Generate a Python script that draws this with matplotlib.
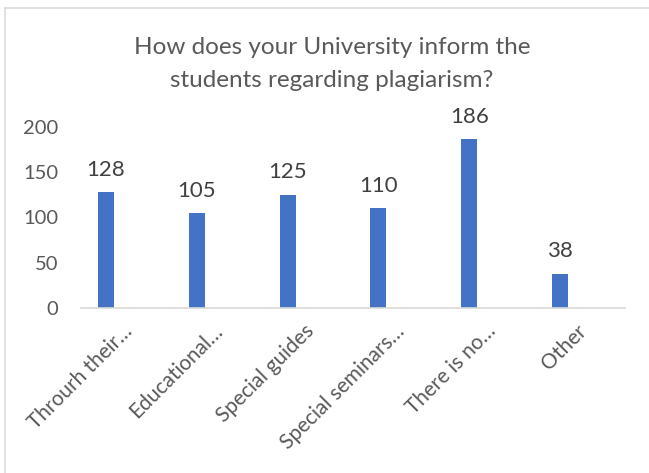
import matplotlib
matplotlib.use('Agg')
import matplotlib.pyplot as plt
import matplotlib.transforms as mtransforms
from matplotlib.lines import Line2D
import numpy as np

categories = ['Throurh their…', 'Educational…', 'Special guides',
              'Special seminars…', 'There is no…', 'Other']
counts = [128, 105, 125, 110, 186, 38]
y_ticks = [0, 50, 100, 150, 200]
title = 'How does your University inform the\nstudents regarding plagiarism?'

plt.rcParams['font.family'] = ['Lato', 'DejaVu Sans']

W, H = 649, 473
fig = plt.figure(figsize=(W / 100, H / 100), dpi=100)
fig.patch.set_facecolor('white')

# chart border (only top and left visible in the reference)
fig.add_artist(Line2D([4.5 / W, 4.5 / W], [0, 1 - 8 / H], color='#d9d9d9', lw=1.1))
fig.add_artist(Line2D([4.5 / W, 1], [1 - 8 / H, 1 - 8 / H], color='#d9d9d9', lw=1.1))

ax = fig.add_axes([81 / W, 1 - 308 / H, (625 - 81) / W, (308 - 126.6) / H])
x = np.arange(len(categories))
ax.bar(x, counts, width=0.176, color='#4472c4', zorder=2)

ax.set_xlim(-0.275, 5.716)
ax.set_ylim(0, 200)
ax.set_yticks(y_ticks)
ax.tick_params(axis='y', length=0, pad=16.5, labelsize=14.5, labelcolor='#595959')
ax.set_xticks(x)
ax.tick_params(axis='x', length=0, labelbottom=False)

for s in ('top', 'right', 'left'):
    ax.spines[s].set_visible(False)
ax.spines['bottom'].set_color('#d9d9d9')
ax.spines['bottom'].set_linewidth(1.2)

for xi, v in zip(x, counts):
    ax.annotate(str(v), (xi, v), xytext=(0, 16), textcoords='offset points',
                ha='center', va='center', fontsize=16, color='#404040',
                annotation_clip=False)

offset = mtransforms.ScaledTranslation(23 / 100, -20 / 100, fig.dpi_scale_trans)
for xi, lab in zip(x, categories):
    ax.text(xi, 0, lab, transform=ax.get_xaxis_transform() + offset,
            rotation=45, rotation_mode='anchor', ha='right', va='center',
            fontsize=15, color='#595959')

fig.text(332 / W, 1 - 64 / H, title, ha='center', va='center', fontsize=17.5,
         color='#595959', linespacing=1.75)

fig.savefig('out.png', dpi=100)
